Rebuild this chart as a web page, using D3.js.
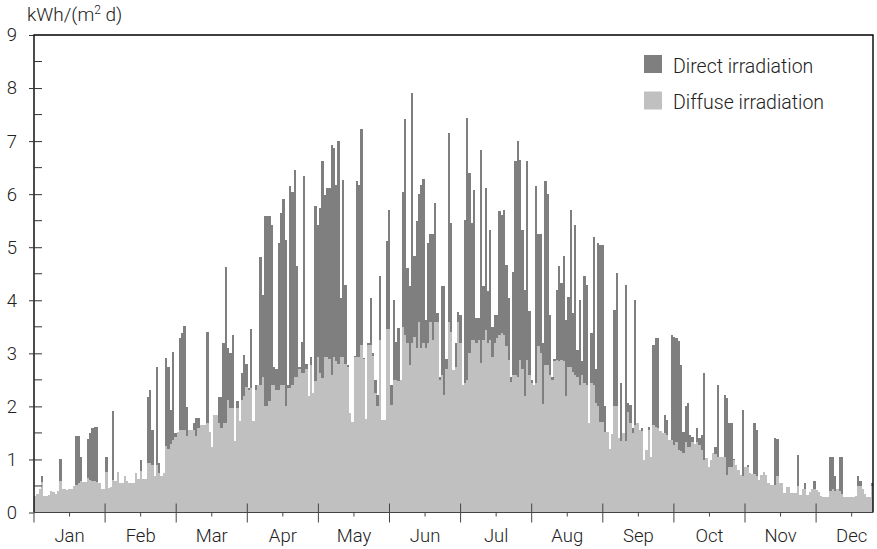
<!DOCTYPE html>
<html>
<head>
<meta charset="utf-8">
<script src="https://cdn.jsdelivr.net/npm/d3@7"></script>
<style>
  html, body { margin: 0; padding: 0; background: #fff; }
  svg text { font-family: Roboto, "Liberation Sans", sans-serif; font-weight: 300; fill: #222; }
</style>
</head>
<body>
<svg id="chart" width="877" height="549"></svg>
<script>
// Month labels and y tick values
const months = ["Jan", "Feb", "Mar", "Apr", "May", "Jun", "Jul", "Aug", "Sep", "Oct", "Nov", "Dec"];
const yTicks = [0, 1, 2, 3, 4, 5, 6, 7, 8, 9];
const yMinorTicks = [0.5, 1.5, 2.5, 3.5, 4.5, 5.5, 6.5, 7.5, 8.5];
const seriesNames = ["Direct irradiation", "Diffuse irradiation"];

// Daily global irradiation (top of each bar), kWh/(m² d)
const globalIrr = [
  0.31,0.35,0.45,0.69,0.32,0.32,0.33,0.40,0.38,0.34,
  0.40,1.00,0.45,0.45,0.42,0.45,0.45,0.50,1.44,1.44,
  1.05,0.57,0.57,1.38,1.50,1.59,1.62,1.62,0.55,0.45,
  0.45,1.05,0.47,0.48,1.91,0.60,0.77,0.56,0.56,0.68,
  0.60,0.55,0.55,0.56,0.74,0.64,0.99,0.64,0.64,2.18,
  2.31,1.56,0.68,2.75,0.93,0.68,0.75,2.91,2.75,1.93,
  3.03,1.50,1.52,3.29,3.38,3.52,1.98,1.56,1.56,1.68,
  1.78,1.78,1.65,1.65,1.65,3.41,1.52,1.24,1.84,1.84,
  2.18,2.18,3.19,4.63,3.10,3.00,3.35,1.34,2.10,1.72,
  2.63,2.97,2.79,2.34,3.46,1.72,2.40,2.40,4.82,4.10,
  5.59,5.59,5.59,5.41,2.75,2.70,5.08,5.65,5.90,5.14,
  2.40,6.15,6.05,6.46,4.64,2.75,3.22,6.34,2.80,2.19,
  2.94,2.25,5.77,5.42,5.74,6.62,5.99,6.12,6.12,6.93,
  6.87,6.18,7.00,4.04,6.27,4.29,2.78,1.87,1.71,2.95,
  6.24,6.18,7.22,2.91,1.77,3.20,4.04,3.00,2.50,2.22,
  4.45,1.75,1.75,5.11,5.70,2.40,4.01,3.22,3.47,2.50,
  6.05,7.41,4.61,4.26,7.91,4.83,5.49,6.00,6.18,6.28,
  3.63,5.08,5.24,5.24,5.83,3.76,2.56,4.26,4.26,2.90,
  7.15,5.46,2.69,3.20,3.77,3.73,2.41,5.52,7.44,6.40,
  5.45,6.08,3.66,3.66,6.84,4.26,6.12,4.17,5.33,3.50,
  3.73,3.73,5.68,5.61,5.71,4.67,4.04,2.56,4.54,6.62,
  7.00,6.65,5.33,4.20,6.62,3.80,2.50,2.41,6.15,5.24,
  5.24,3.20,6.24,6.00,3.73,2.55,2.90,4.20,4.64,4.32,
  4.83,3.63,4.07,5.70,3.76,5.42,3.06,4.00,2.85,4.45,
  4.29,1.68,3.38,5.20,2.70,5.08,5.05,5.05,2.00,1.52,
  1.20,1.48,3.82,4.51,1.40,2.44,1.50,4.29,2.06,2.03,
  1.60,4.00,1.68,1.55,1.60,0.99,1.18,1.62,1.05,3.16,
  3.29,3.29,1.53,1.50,1.84,1.74,1.37,3.35,3.30,3.29,
  3.23,2.78,1.52,2.00,2.06,1.46,1.43,1.30,1.59,1.40,
  1.46,2.63,1.02,0.86,0.99,1.12,1.24,2.40,1.05,1.05,
  2.22,2.15,1.68,1.68,1.00,0.90,0.80,0.71,1.93,0.86,
  0.90,0.74,0.72,1.68,1.56,0.61,0.71,0.77,0.71,0.55,
  0.52,0.52,1.40,1.38,0.55,0.55,0.36,0.49,0.49,0.36,
  0.36,0.36,1.08,0.33,0.45,0.56,0.33,0.38,0.45,0.60,
  0.42,0.38,0.32,0.30,0.30,0.30,1.05,1.05,0.68,0.45,
  1.05,1.05,0.30,0.30,0.30,0.30,0.30,0.32,0.68,0.60,
  0.45,0.35,0.30,0.30,0.55
];

// Daily diffuse irradiation, kWh/(m² d)
const diffuseIrr = [
  0.31,0.35,0.45,0.58,0.32,0.32,0.33,0.40,0.38,0.34,
  0.40,0.60,0.45,0.45,0.42,0.45,0.45,0.50,0.52,0.55,
  0.60,0.57,0.57,0.65,0.62,0.60,0.60,0.58,0.55,0.45,
  0.45,0.77,0.47,0.48,0.62,0.60,0.77,0.56,0.56,0.68,
  0.60,0.55,0.55,0.56,0.74,0.64,0.78,0.64,0.64,0.93,
  0.93,0.90,0.68,0.90,0.75,0.68,0.75,1.25,1.20,1.30,
  1.36,1.42,1.52,1.56,1.56,1.56,1.45,1.56,1.56,1.55,
  1.45,1.60,1.65,1.65,1.65,1.68,1.52,1.24,1.84,1.84,
  1.68,1.60,1.68,1.68,2.12,1.97,1.97,1.34,1.97,1.72,
  2.12,2.20,2.37,2.30,2.34,1.72,2.30,2.40,2.40,2.56,
  2.00,2.00,2.10,2.40,2.40,2.30,2.30,2.40,2.40,2.00,
  2.34,2.35,2.40,2.56,2.56,2.70,2.62,2.62,2.70,2.19,
  2.78,2.25,2.47,2.94,2.62,2.53,2.94,2.94,2.90,2.60,
  2.94,2.85,2.80,2.94,2.94,2.80,2.75,1.87,1.71,2.94,
  2.94,2.94,3.16,2.90,1.77,3.16,3.16,2.95,2.25,2.00,
  3.25,1.75,1.75,3.46,3.46,2.03,2.50,2.50,2.48,2.50,
  3.50,3.35,3.20,2.78,3.20,3.30,3.10,3.60,3.10,3.20,
  3.10,3.20,3.60,3.25,3.60,3.60,2.50,2.60,2.22,2.70,
  3.60,3.40,2.69,2.75,3.60,3.19,2.41,2.45,2.50,3.00,
  3.25,3.25,3.20,3.25,2.81,3.25,3.44,3.20,3.25,2.94,
  3.19,3.29,3.35,3.38,3.35,3.13,2.88,2.46,2.60,2.60,
  2.56,2.88,2.70,2.20,2.88,2.60,2.45,2.41,2.45,3.13,
  3.00,2.05,2.78,2.78,2.60,2.50,2.85,2.88,2.85,2.88,
  2.85,2.20,2.75,2.75,2.65,2.60,2.55,2.40,2.60,2.44,
  2.40,1.68,2.44,2.40,2.06,2.00,1.70,1.70,1.52,1.52,
  1.20,1.48,2.00,2.00,1.40,1.35,1.50,1.35,1.90,1.68,
  1.50,1.65,1.68,1.55,1.53,0.99,1.18,1.55,1.05,1.65,
  1.62,1.60,1.53,1.50,1.50,1.47,1.37,1.37,1.27,1.33,
  1.18,1.15,1.12,1.33,1.24,1.24,1.33,1.30,1.33,1.27,
  1.18,0.99,1.02,0.86,0.99,1.12,1.10,1.05,1.05,1.05,
  1.05,0.71,0.85,0.85,0.99,0.90,0.80,0.71,0.68,0.86,
  0.86,0.74,0.72,0.72,0.68,0.61,0.71,0.77,0.71,0.55,
  0.52,0.52,0.52,0.68,0.55,0.55,0.36,0.49,0.49,0.36,
  0.36,0.36,0.50,0.33,0.45,0.45,0.33,0.38,0.45,0.44,
  0.42,0.38,0.32,0.30,0.30,0.30,0.40,0.45,0.40,0.45,
  0.40,0.35,0.30,0.30,0.30,0.30,0.30,0.32,0.50,0.50,
  0.45,0.35,0.30,0.30,0.50
];

const colorDirect = "#7f7f7f";
const colorDiffuse = "#c0c0c0";

const plot = { left: 34, right: 873, top: 35, bottom: 512.5 };
const monthWidth = 71.1;

const svg = d3.select("#chart");

const days = d3.range(globalIrr.length);
const x = d3.scaleBand().domain(days).range([plot.left, plot.right]).padding(0);
const xMonth = d3.scaleLinear().domain([0, 12]).range([plot.left, plot.left + 12 * monthWidth]);
const y = d3.scaleLinear().domain([0, 9]).range([plot.bottom, plot.top]);

const rows = days.map(i => ({
  day: i,
  diffuse: diffuseIrr[i],
  direct: Math.max(0, globalIrr[i] - diffuseIrr[i])
}));
const stack = d3.stack().keys(["diffuse", "direct"])(rows);
const fills = { diffuse: colorDiffuse, direct: colorDirect };

// Stacked daily bars: diffuse at the bottom, direct on top
const bw = x.bandwidth() + 0.02;
svg.append("g")
  .attr("shape-rendering", "crispEdges")
  .selectAll("g")
  .data(stack)
  .join("g")
  .attr("fill", s => fills[s.key])
  .selectAll("rect")
  .data(s => s)
  .join("rect")
  .attr("x", d => x(d.data.day))
  .attr("width", bw)
  .attr("y", d => y(d[1]))
  .attr("height", d => Math.max(0, y(d[0]) - y(d[1])));

// Plot frame
svg.append("path")
  .attr("d", `M${plot.left},${plot.bottom}V${plot.top}H${plot.right}V${plot.bottom}`)
  .attr("fill", "none").attr("stroke", "#000").attr("stroke-width", 1.4);
svg.append("line")
  .attr("x1", plot.left).attr("x2", plot.right)
  .attr("y1", plot.bottom).attr("y2", plot.bottom)
  .attr("stroke", "#444").attr("stroke-width", 1.2);

// Y axis: labelled ticks cross the axis line, half-unit ticks point inward
const yAxis = d3.axisLeft(y).tickValues(yTicks).tickSize(5).tickPadding(12).tickFormat(d3.format("d"));
const gy = svg.append("g").attr("transform", `translate(${plot.left},0)`).call(yAxis);
gy.select(".domain").remove();
gy.selectAll(".tick line").attr("stroke", "#333").attr("x2", -5).attr("x1", d => (d === 0 || d === 9) ? 0 : 8);
gy.selectAll(".tick text").attr("font-size", 18.5).attr("fill", "#222")
  .style("font-family", "Roboto, 'Liberation Sans', sans-serif").style("font-weight", 300);
svg.append("g").selectAll("line").data(yMinorTicks).join("line")
  .attr("x1", plot.left).attr("x2", plot.left + 8)
  .attr("y1", d => y(d)).attr("y2", d => y(d))
  .attr("stroke", "#333").attr("stroke-width", 1);

// Month boundary ticks (crossing the axis) and mid-month ticks
const bounds = d3.range(12);
svg.append("g").selectAll("line").data(bounds).join("line")
  .attr("x1", d => xMonth(d)).attr("x2", d => xMonth(d))
  .attr("y1", d => d === 0 ? plot.bottom : plot.bottom - 9)
  .attr("y2", plot.bottom + 10)
  .attr("stroke", "#444").attr("stroke-width", 1);
svg.append("g").selectAll("line").data(bounds).join("line")
  .attr("x1", d => xMonth(d + 0.5)).attr("x2", d => xMonth(d + 0.5))
  .attr("y1", plot.bottom).attr("y2", plot.bottom + 4)
  .attr("stroke", "#444").attr("stroke-width", 1);
svg.append("g").selectAll("text").data(months).join("text")
  .attr("x", (d, i) => xMonth(i + 0.5))
  .attr("y", 542)
  .attr("text-anchor", "middle")
  .attr("font-size", 18.5)
  .text(d => d);

// Unit label
const unit = svg.append("text").attr("x", 27).attr("y", 21).attr("font-size", 19);
unit.append("tspan").text("kWh/(m");
unit.append("tspan").attr("font-size", 12).attr("dy", -7).text("2");
unit.append("tspan").attr("dy", 7).text(" d)");

// Legend
const legend = svg.append("g").attr("transform", "translate(644,55)");
const legendItems = [
  { name: seriesNames[0], color: colorDirect },
  { name: seriesNames[1], color: colorDiffuse }
];
const li = legend.selectAll("g").data(legendItems).join("g")
  .attr("transform", (d, i) => `translate(0,${i * 36.5})`);
li.append("rect").attr("width", 18).attr("height", 18).attr("fill", d => d.color);
li.append("text").attr("x", 29).attr("y", 17.5).attr("font-size", 19.5).text(d => d.name);
</script>
</body>
</html>
